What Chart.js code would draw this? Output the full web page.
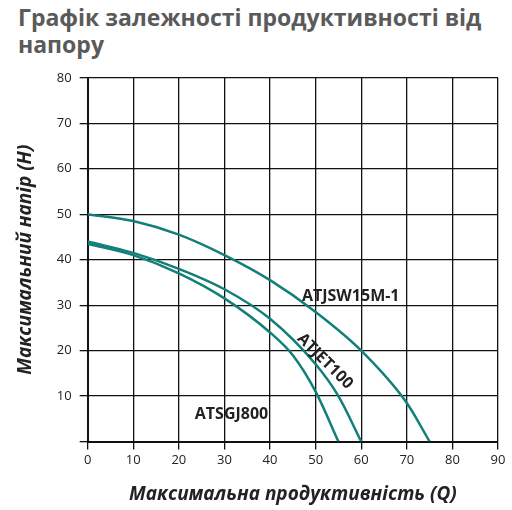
<!DOCTYPE html><html><head><meta charset="utf-8"><script src="https://cdn.jsdelivr.net/npm/chart.js"></script>
<style>body{margin:0;background:#fff}#t{font-family:"Open Sans";font-weight:700;color:#5a5a5a;font-size:23px;line-height:27px;position:absolute;left:18px;top:4px;width:490px}</style></head><body>
<div id="t">Графік залежності продуктивності від напору</div>
<div style="position:absolute;left:0;top:62px;width:512px;height:448px"><canvas id="c"></canvas></div>
<script>
const flowTicks=[0,10,20,30,40,50,60,70,80,90];
const q1=[0,10,20,30,40,50,60,70,75], h1=[50,48.5,45.5,41,35.5,28.5,20,8.5,0];
const q2=[0,10,20,30,40,50,55,60], h2=[44,41.5,38,33.5,27,17,10,0];
const q3=[0,10,20,30,40,45,50,55], h3=[43.5,41,37,31.5,24,19,11,0];
const names=['ATJSW15M-1','ATJET100','ATSGJ800'];
const pts=(q,h)=>q.map((x,i)=>({x,y:h[i]}));
const ds=[[q1,h1],[q2,h2],[q3,h3]].map((d,i)=>({label:names[i],data:pts(...d),borderColor:'#127f78',borderWidth:2.5,pointRadius:0,cubicInterpolationMode:'monotone'}));
const labels={id:'lbl',afterDatasetsDraw(c){const g=c.ctx,x=c.scales.x,y=c.scales.y;g.save();g.font='bold 16px "Open Sans"';g.fillStyle='#222';
g.fillText('ATJSW15M-1',x.getPixelForValue(47),y.getPixelForValue(31));
g.fillText('ATSGJ800',x.getPixelForValue(23.5),y.getPixelForValue(5));
g.translate(x.getPixelForValue(45.8),y.getPixelForValue(22.5));g.rotate(Math.PI/4);g.fillText('ATJET100',0,0);g.restore();}};
new Chart(document.getElementById('c'),{type:'line',data:{datasets:ds},plugins:[labels],options:{responsive:true,maintainAspectRatio:false,animation:false,
layout:{padding:{right:14,top:10,left:10}},plugins:{legend:{display:false},tooltip:{enabled:false}},
scales:{x:{type:'linear',min:0,max:90,afterBuildTicks:a=>{a.ticks=flowTicks.map(v=>({value:v}))},grid:{color:'#111',lineWidth:1.3},border:{color:'#111',width:2},ticks:{color:'#222',font:{size:13,family:'Open Sans'}},title:{display:true,text:'Максимальна продуктивність (Q)',padding:{top:12},font:{size:19,style:'italic',weight:'bold',family:'Open Sans'},color:'#222'}},
y:{min:0,max:80,ticks:{stepSize:10,color:'#222',font:{size:13,family:'Open Sans'},padding:8,callback:v=>v===0?'':v},grid:{color:'#111',lineWidth:1.3},border:{color:'#111',width:2},title:{display:true,text:'Максимальний напір (H)',padding:{bottom:12},font:{size:19,style:'italic',weight:'bold',family:'Open Sans'},color:'#222'}}}}});
</script></body></html>
